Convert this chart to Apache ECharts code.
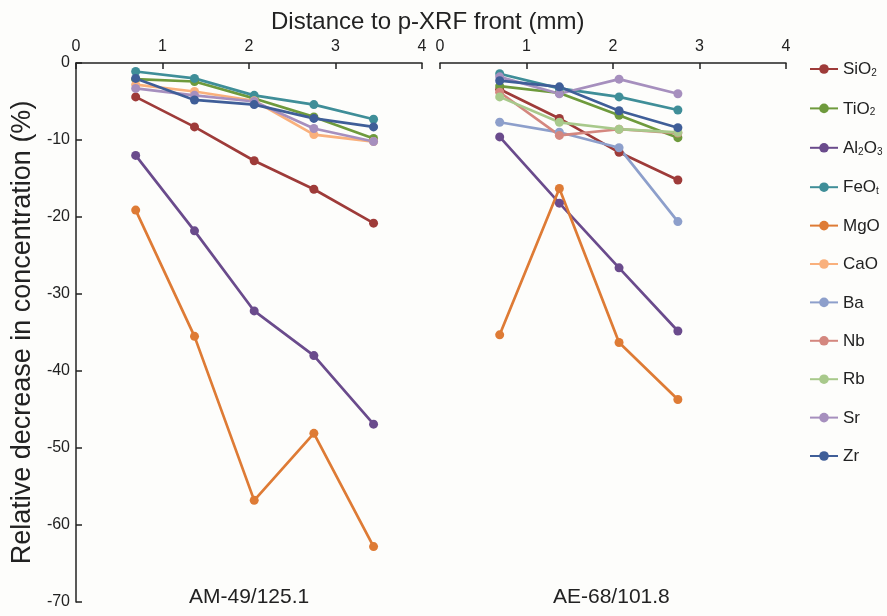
<!DOCTYPE html>
<html>
<head>
    <meta charset="utf-8">
    <title>p-XRF profiles</title>
    <style>
        html, body { margin: 0; padding: 0; background: #fdfdfb; }
        #chart { width: 887px; height: 616px; }
    </style>
</head>
<body>
    <div id="chart"></div>
    <script src="https://cdn.jsdelivr.net/npm/echarts@6/dist/echarts.min.js"></script>
    <script>
    // distance of the sample points (mm)
    var distLeft = [0.69, 1.37, 2.06, 2.75, 3.44];
    var distRight = [0.69, 1.38, 2.07, 2.75];

    var elements = ['SiO2', 'TiO2', 'Al2O3', 'FeOt', 'MgO', 'CaO', 'Ba', 'Nb', 'Rb', 'Sr', 'Zr'];
    var colors = ['#9e3b39', '#6e9a3c', '#6a4b8c', '#3f8e98', '#de7b35', '#f9b07c', '#8d9fcb', '#d4877f', '#a8c98b', '#a68fbe', '#3f5e98'];

    // AM-49/125.1 (left panel), relative decrease in %
    var leftSiO2 = [-4.4, -8.3, -12.7, -16.4, -20.8];
    var leftTiO2 = [-2.1, -2.4, -4.6, -7.0, -9.8];
    var leftAl2O3 = [-12.0, -21.8, -32.2, -38.0, -46.9];
    var leftFeOt = [-1.1, -2.0, -4.2, -5.4, -7.3];
    var leftMgO = [-19.1, -35.5, -56.8, -48.1, -62.8];
    var leftCaO = [-2.8, -3.7, -4.9, -9.3, -10.2];
    var leftSr = [-3.3, -4.2, -5.0, -8.5, -10.2];
    var leftZr = [-2.0, -4.8, -5.4, -7.2, -8.3];

    // AE-68/101.8 (right panel)
    var rightSiO2 = [-3.4, -7.2, -11.6, -15.2];
    var rightTiO2 = [-3.0, -3.9, -6.8, -9.7];
    var rightAl2O3 = [-9.6, -18.2, -26.6, -34.8];
    var rightFeOt = [-1.4, -3.3, -4.4, -6.1];
    var rightMgO = [-35.3, -16.3, -36.3, -43.7];
    var rightBa = [-7.7, -9.0, -11.0, -20.6];
    var rightNb = [-3.8, -9.4, -8.6, -9.1];
    var rightRb = [-4.4, -7.7, -8.6, -9.0];
    var rightSr = [-1.8, -4.0, -2.1, -4.0];
    var rightZr = [-2.3, -3.1, -6.2, -8.4];

    var leftData = { SiO2: leftSiO2, TiO2: leftTiO2, Al2O3: leftAl2O3, FeOt: leftFeOt, MgO: leftMgO, CaO: leftCaO, Sr: leftSr, Zr: leftZr };
    var rightData = { SiO2: rightSiO2, TiO2: rightTiO2, Al2O3: rightAl2O3, FeOt: rightFeOt, MgO: rightMgO, Ba: rightBa, Nb: rightNb, Rb: rightRb, Sr: rightSr, Zr: rightZr };

    var legendLabels = {
        SiO2: '{t|SiO}{s|2}',
        TiO2: '{t|TiO}{s|2}',
        Al2O3: '{t|Al}{s|2}{t|O}{s|3}',
        FeOt: '{t|FeO}{s|t}',
        MgO: '{t|MgO}',
        CaO: '{t|CaO}',
        Ba: '{t|Ba}',
        Nb: '{t|Nb}',
        Rb: '{t|Rb}',
        Sr: '{t|Sr}',
        Zr: '{t|Zr}'
    };

    function pairs(xs, ys) {
        return ys.map(function (y, i) { return [xs[i], y]; });
    }

    var series = [];
    elements.forEach(function (name, k) {
        var style = {
            type: 'line',
            name: name,
            color: colors[k],
            symbol: 'circle',
            symbolSize: 9,
            lineStyle: { width: 2.7 },
            animation: false
        };
        if (leftData[name]) {
            series.push(Object.assign({}, style, {
                xAxisIndex: 0, yAxisIndex: 0, data: pairs(distLeft, leftData[name])
            }));
        }
        if (rightData[name]) {
            series.push(Object.assign({}, style, {
                xAxisIndex: 1, yAxisIndex: 1, data: pairs(distRight, rightData[name])
            }));
        }
    });

    var font = 'Liberation Sans';
    var xAxisBase = {
        type: 'value',
        position: 'top',
        min: 0,
        max: 4,
        interval: 1,
        axisLine: { lineStyle: { color: '#222', width: 1.5 } },
        axisTick: { inside: true, length: 6, lineStyle: { color: '#222', width: 1.5 } },
        axisLabel: { color: '#222', fontSize: 16, fontFamily: font, margin: 8 },
        splitLine: { show: false }
    };

    var myChart = echarts.init(document.getElementById('chart'));
    myChart.setOption({
        backgroundColor: '#fdfdfb',
        title: {
            text: 'Distance to p-XRF front (mm)',
            left: 266,
            top: 5,
            textStyle: { fontFamily: font, fontSize: 24, fontWeight: 'normal', color: '#222' }
        },
        grid: [
            { left: 76, top: 63, width: 346, height: 539 },
            { left: 440, top: 63, width: 346, height: 539 }
        ],
        xAxis: [
            Object.assign({ gridIndex: 0 }, xAxisBase),
            Object.assign({ gridIndex: 1 }, xAxisBase)
        ],
        yAxis: [
            {
                gridIndex: 0,
                type: 'value',
                min: -70,
                max: 0,
                interval: 10,
                name: 'Relative decrease in concentration (%)',
                nameLocation: 'middle',
                nameGap: 40,
                nameTextStyle: { fontFamily: font, fontSize: 27, color: '#222' },
                axisLine: { show: true, lineStyle: { color: '#222', width: 1.5 } },
                axisTick: { show: true, inside: true, length: 6, lineStyle: { color: '#222', width: 1.5 } },
                axisLabel: { color: '#222', fontSize: 16, fontFamily: font, margin: 6 },
                splitLine: { show: false }
            },
            {
                gridIndex: 1,
                type: 'value',
                min: -70,
                max: 0,
                interval: 10,
                show: false
            }
        ],
        legend: {
            orient: 'vertical',
            left: 804,
            top: 55,
            itemWidth: 28,
            itemHeight: 12,
            itemGap: 21.4,
            data: elements,
            formatter: function (name) { return legendLabels[name]; },
            textStyle: {
                color: '#222',
                fontFamily: font,
                rich: {
                    t: { fontSize: 17, fontFamily: font, color: '#222', lineHeight: 18, verticalAlign: 'bottom' },
                    s: { fontSize: 10, fontFamily: font, color: '#222', lineHeight: 10, padding: [8, 0, 0, 0], verticalAlign: 'bottom' }
                }
            }
        },
        graphic: [
            {
                type: 'text', left: 189, top: 587,
                style: { text: 'AM-49/125.1', fontFamily: font, fontSize: 21, fill: '#222' }
            },
            {
                type: 'text', left: 553, top: 587,
                style: { text: 'AE-68/101.8', fontFamily: font, fontSize: 21, fill: '#222' }
            }
        ],
        series: series
    });
    </script>
</body>
</html>
